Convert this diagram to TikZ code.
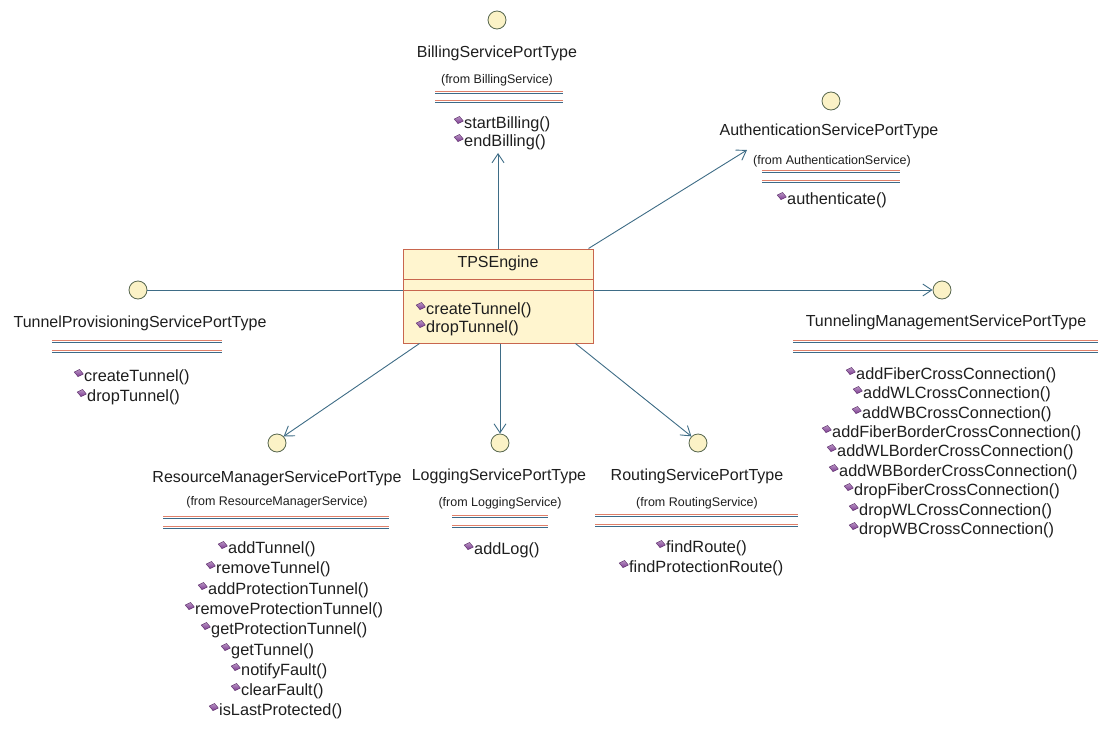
\documentclass[tikz,border=0pt]{standalone}
\usepackage{fontspec}
\setmainfont{Liberation Sans}
\usetikzlibrary{arrows.meta,positioning,shapes.geometric,fit}
\definecolor{linkteal}{HTML}{3E6C86}
\definecolor{sepblue}{HTML}{3C6A88}
\definecolor{sepred}{HTML}{E0806A}
\definecolor{boxline}{HTML}{C8664E}
\definecolor{boxfill}{HTML}{FFF5CF}
\definecolor{portfill}{HTML}{FBF2C6}
\definecolor{portline}{HTML}{56664E}
\definecolor{opviolet}{HTML}{7E3C92}
\definecolor{ink}{HTML}{1E1E1E}
\tikzset{
  port/.style={circle, draw=portline, fill=portfill, line width=0.8pt,
    minimum size=18pt, inner sep=0pt},
  portname/.style={font=\fontsize{16}{18}\selectfont, text=ink, inner sep=1pt},
  fromtxt/.style={font=\fontsize{12.5}{14}\selectfont, text=ink, inner sep=1pt},
  opicon/.style={diamond, top color=opviolet!55!white, bottom color=opviolet,
    draw=opviolet!70!black, line width=0.4pt, rotate=-12,
    minimum width=9.5pt, minimum height=7.5pt, inner sep=0pt, yshift=3pt},
  oper/.style={font=\fontsize{16.3}{18}\selectfont, text=ink, anchor=west,
    inner sep=1pt, xshift=8pt, label={[opicon]left:{}}},
  sepline/.style={draw=sepblue, line width=1pt,
    preaction={draw=sepred, line width=0.8pt, transform canvas={yshift=1.4pt}}},
  realize/.style={draw=linkteal, line width=0.9pt},
  dep/.style={draw=linkteal, line width=0.9pt,
    -{Straight Barb[length=9pt, width=12pt, line width=0.9pt]}},
  engine/.style={rectangle, draw=boxline, fill=boxfill, line width=1pt,
    minimum width=190pt, minimum height=94pt, inner sep=0pt},
}

\begin{document}
\begin{tikzpicture}[x=1pt, y=-1pt]
  \useasboundingbox (0,0) rectangle (1098,731);

  % TPSEngine class
  \node[engine] (tps) at (498,296) {};
  \node[portname] (tpsN) at (498,263) {TPSEngine};
  \draw[boxline, line width=1pt] ([yshift=17pt]tps.west) -- ([yshift=17pt]tps.east);
  \draw[boxline, line width=1pt] ([yshift=6pt]tps.west) -- ([yshift=6pt]tps.east);
  \foreach \x/\y/\op [count=\i] in {417/310/{createTunnel()}, 417/328/{dropTunnel()}}
    \node[oper] (tps\i) at (\x,\y) {\op};

  % BillingServicePortType
  \node[port] (billC) at (497,20) {};
  \node[portname] (billN) at (497,53) {BillingServicePortType};
  \node[fromtxt] (billF) at (497,80) {(from BillingService)};
  \draw[sepline] (435,93) -- (563,93);
  \draw[sepline] (435,102) -- (563,102);
  \foreach \x/\y/\op [count=\i] in {455/124/{startBilling()}, 455/142/{endBilling()}}
    \node[oper] (bill\i) at (\x,\y) {\op};
  \node[fit=(billN)(bill2), inner sep=2pt] (billBox) {};

  % AuthenticationServicePortType
  \node[port] (authC) at (831,101) {};
  \node[portname] (authN) at (829,131) {AuthenticationServicePortType};
  \node[fromtxt] (authF) at (832,161) {(from AuthenticationService)};
  \draw[sepline] (762,172) -- (900,172);
  \draw[sepline] (762,182) -- (900,182);
  \node[oper] (auth1) at (778,200) {authenticate()};
  \coordinate (authTip) at (747,150);

  % TunnelProvisioningServicePortType
  \node[port] (tpiC) at (138,290) {};
  \node[portname] (tpiN) at (140,323) {TunnelProvisioningServicePortType};
  \draw[sepline] (52,342) -- (222,342);
  \draw[sepline] (52,352) -- (222,352);
  \foreach \x/\y/\op [count=\i] in {75/377/{createTunnel()}, 78/397/{dropTunnel()}}
    \node[oper] (tpi\i) at (\x,\y) {\op};

  % TunnelingManagementServicePortType
  \node[port] (tmsC) at (942,290) {};
  \node[portname] (tmsN) at (946,322) {TunnelingManagementServicePortType};
  \draw[sepline] (793,342) -- (1098,342);
  \draw[sepline] (793,352) -- (1098,352);
  \foreach \x/\y/\op [count=\i] in {
      847/375/{addFiberCrossConnection()}, 854/394/{addWLCrossConnection()},
      853/414/{addWBCrossConnection()}, 823/433/{addFiberBorderCrossConnection()},
      828/452/{addWLBorderCrossConnection()}, 830/472/{addWBBorderCrossConnection()},
      845/491/{dropFiberCrossConnection()}, 850/511/{dropWLCrossConnection()},
      850/530/{dropWBCrossConnection()}}
    \node[oper] (tms\i) at (\x,\y) {\op};

  % ResourceManagerServicePortType
  \node[port] (rmC) at (277,443) {};
  \node[portname] (rmN) at (277,478) {ResourceManagerServicePortType};
  \node[fromtxt] (rmF) at (277,502) {(from ResourceManagerService)};
  \draw[sepline] (163,518) -- (389,518);
  \draw[sepline] (163,528) -- (389,528);
  \foreach \x/\y/\op [count=\i] in {
      219/549/{addTunnel()}, 207/569/{removeTunnel()},
      199/590/{addProtectionTunnel()}, 186/610/{removeProtectionTunnel()},
      202/630/{getProtectionTunnel()}, 222/651/{getTunnel()},
      232/671/{notifyFault()}, 232/691/{clearFault()},
      210/711/{isLastProtected()}}
    \node[oper] (rm\i) at (\x,\y) {\op};

  % LoggingServicePortType
  \node[port] (logC) at (500,443) {};
  \node[portname] (logN) at (499,476) {LoggingServicePortType};
  \node[fromtxt] (logF) at (500,503) {(from LoggingService)};
  \draw[sepline] (452,517) -- (548,517);
  \draw[sepline] (452,527) -- (548,527);
  \node[oper] (log1) at (465,550) {addLog()};

  % RoutingServicePortType
  \node[port] (rtC) at (698,443) {};
  \node[portname] (rtN) at (697,476) {RoutingServicePortType};
  \node[fromtxt] (rtF) at (697,503) {(from RoutingService)};
  \draw[sepline] (595,516) -- (798,516);
  \draw[sepline] (595,526) -- (798,526);
  \foreach \x/\y/\op [count=\i] in {657/548/{findRoute()}, 620/568/{findProtectionRoute()}}
    \node[oper] (rt\i) at (\x,\y) {\op};

  % connectors
  \draw[realize] (tpiC.east) -- (tpiC.east -| tps.west);
  \draw[dep] (tps.east |- tmsC) -- (tmsC.west);
  \draw[dep] (tps.north) -- (tps.north |- billBox.south);
  \draw[dep] ([xshift=-5pt]tps.north east) -- (authTip);
  \draw[dep] ([xshift=17pt]tps.south west) -- (rmC.45);
  \draw[dep] (tps.south -| logC) -- (logC.north);
  \draw[dep] ([xshift=-18pt]tps.south east) -- (rtC.135);
\end{tikzpicture}
\end{document}
